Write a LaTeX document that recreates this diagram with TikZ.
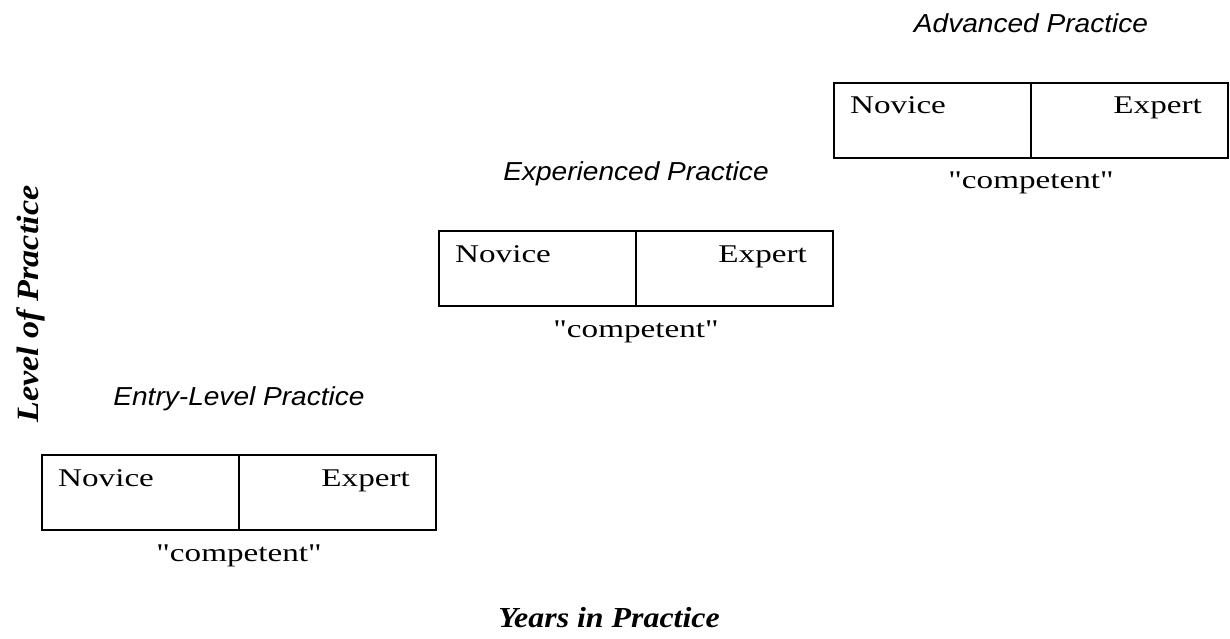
\documentclass[tikz,border=0pt]{standalone}
\usepackage{fontspec}
\newfontfamily\boxfont[FakeStretch=1.3]{Liberation Serif}
\newfontfamily\stagefont[FakeStretch=1.08]{Liberation Sans}
\newfontfamily\axisfont[FakeStretch=1.1]{Liberation Serif}
\tikzstyle{half}=[draw, line width=1.4pt, minimum width=197pt, minimum height=75pt, inner sep=0pt, outer sep=0pt]
\tikzstyle{boxtext}=[inner sep=0pt, font=\boxfont\fontsize{25.5}{29}\selectfont]
\tikzstyle{stagetext}=[inner sep=0pt, font=\stagefont\itshape\fontsize{26}{30}\selectfont]
\tikzstyle{axistext}=[inner sep=0pt, font=\axisfont\bfseries\itshape\fontsize{29}{33}\selectfont]

\begin{document}
\begin{tikzpicture}[x=1pt, y=-1pt]
\useasboundingbox (0,0) rectangle (1230,639);
% Entry-level
    \node[half, anchor=north west] (nov1) at (42,455) {};
    \node[half, anchor=north west] (exp1) at (nov1.north east) {};
    \node[boxtext, anchor=base west] (novtxt1) at ([xshift=16pt,yshift=-31pt]nov1.north west) {Novice};
    \node[boxtext, anchor=base east] (exptxt1) at ([xshift=-26pt,yshift=-31pt]exp1.north east) {Expert};
    \node[boxtext, anchor=base] (comp1) at ([yshift=-31pt]nov1.south east) {"competent"};
    \node[stagetext, anchor=base] (stage1) at ([yshift=50pt]nov1.north east) {Entry-Level Practice};
% Experienced
    \node[half, anchor=north west] (nov2) at (439,231) {};
    \node[half, anchor=north west] (exp2) at (nov2.north east) {};
    \node[boxtext, anchor=base west] (novtxt2) at ([xshift=16pt,yshift=-31pt]nov2.north west) {Novice};
    \node[boxtext, anchor=base east] (exptxt2) at ([xshift=-26pt,yshift=-31pt]exp2.north east) {Expert};
    \node[boxtext, anchor=base] (comp2) at ([yshift=-31pt]nov2.south east) {"competent"};
    \node[stagetext, anchor=base] (stage2) at ([yshift=50pt]nov2.north east) {Experienced Practice};
% Advanced
    \node[half, anchor=north west] (nov3) at (834,83) {};
    \node[half, anchor=north west] (exp3) at (nov3.north east) {};
    \node[boxtext, anchor=base west] (novtxt3) at ([xshift=16pt,yshift=-31pt]nov3.north west) {Novice};
    \node[boxtext, anchor=base east] (exptxt3) at ([xshift=-26pt,yshift=-31pt]exp3.north east) {Expert};
    \node[boxtext, anchor=base] (comp3) at ([yshift=-31pt]nov3.south east) {"competent"};
    \node[stagetext, anchor=base] (stage3) at ([yshift=50pt]nov3.north east) {Advanced Practice};
% Axes
    \node[axistext, anchor=base] (years) at (609,627) {Years in Practice};
    \node[axistext, anchor=base, rotate=90, font=\axisfont\bfseries\itshape\fontsize{31}{35}\selectfont] (level) at (38,304) {Level of Practice};
\end{tikzpicture}
\end{document}
